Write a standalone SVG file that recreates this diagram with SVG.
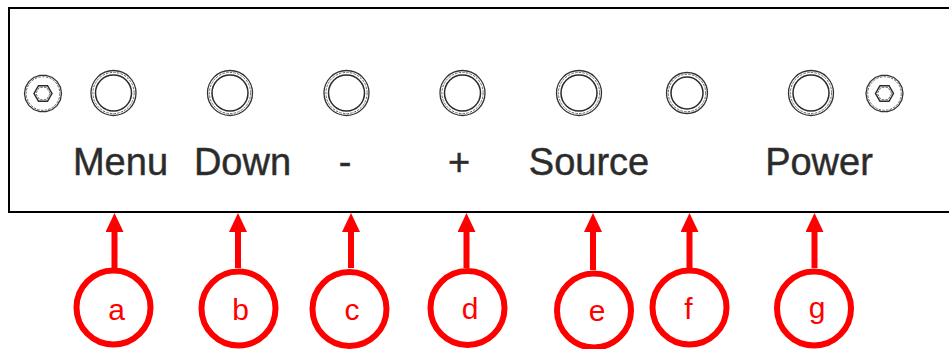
<svg xmlns="http://www.w3.org/2000/svg" width="949" height="349" viewBox="0 0 949 349">
  <style>
    .panel { fill: #ffffff; stroke: #000000; stroke-width: 2; }
    .k1 { fill: none; stroke: #333333; stroke-width: 1.3; }
    .k2 { fill: none; stroke: #666666; stroke-width: 1; stroke-dasharray: 2.5 1.2; }
    .k3 { fill: none; stroke: #2a2a2a; stroke-width: 1.5; }
    .lbl { font-family: "Liberation Sans", Arial, sans-serif; font-size: 38px; fill: #2a2a2a; stroke: #3a3a3a; stroke-width: 0.5; text-anchor: middle; }
    .ring { fill: #ffffff; stroke: #ff0000; stroke-width: 6; }
    .letter { font-family: "Liberation Sans", Arial, sans-serif; font-size: 30px; fill: #ff0000; text-anchor: middle; }
    .arrow { fill: none; stroke: #ff0000; stroke-width: 6; marker-end: url(#head); }
  </style>
  <defs>
    <marker id="head" viewBox="0 0 19 18" refX="0" refY="9" markerWidth="19" markerHeight="18" markerUnits="userSpaceOnUse" orient="auto">
      <path d="M0,0 L19,9 L0,18 Z" fill="#ff0000"/>
    </marker>
    <g id="knob">
      <circle class="k1" r="22.5"/>
      <circle class="k2" r="20.6"/>
      <circle class="k3" r="18"/>
    </g>
    <g id="knobS">
      <circle class="k1" r="20.5"/>
      <circle class="k2" r="18.7"/>
      <circle class="k3" r="16"/>
    </g>
    <g id="screw">
      <polygon class="k1" points="18.5,0 17.4,6.3 14.2,11.9 9.3,16 3.2,18.2 -3.2,18.2 -9.3,16 -14.2,11.9 -17.4,6.3 -18.5,0 -17.4,-6.3 -14.2,-11.9 -9.3,-16 -3.2,-18.2 3.2,-18.2 9.3,-16 14.2,-11.9 17.4,-6.3"/>
      <circle class="k2" r="16.8"/>
      <polygon class="k3" points="9,0 4.5,7.8 -4.5,7.8 -9,0 -4.5,-7.8 4.5,-7.8"/>
      <polygon class="k2" points="7.2,0 3.6,6.2 -3.6,6.2 -7.2,0 -3.6,-6.2 3.6,-6.2"/>
    </g>
  </defs>

  <g id="panel">
    <path class="panel" d="M950,8 L9,8 L9,212 L950,212"/>
    <use id="screw-left" href="#screw" x="43" y="93.5"/>
    <use id="screw-right" href="#screw" x="884.5" y="93.5"/>
    <g id="btn-menu"><use href="#knob" x="113.5" y="93"/><text class="lbl" x="120.5" y="175">Menu</text></g>
    <g id="btn-down"><use href="#knob" x="230" y="93"/><text class="lbl" x="242.5" y="175">Down</text></g>
    <g id="btn-minus"><use href="#knob" x="346.5" y="93"/><text class="lbl" x="345" y="175">-</text></g>
    <g id="btn-plus"><use href="#knob" x="462.5" y="93"/><text class="lbl" x="459" y="175">+</text></g>
    <g id="btn-source"><use href="#knob" x="579" y="93"/><text class="lbl" x="589" y="175">Source</text></g>
    <g id="btn-f"><use href="#knobS" x="687" y="93"/></g>
    <g id="btn-power"><use href="#knob" x="811" y="93"/><text class="lbl" x="819" y="175">Power</text></g>
  </g>

  <g id="connectors">
    <path class="arrow" d="M114.5,268 L114.5,232"/>
    <path class="arrow" d="M238,268 L238,232"/>
    <path class="arrow" d="M351,268 L351,232"/>
    <path class="arrow" d="M466.5,268 L466.5,232"/>
    <path class="arrow" d="M593,270 L593,232"/>
    <path class="arrow" d="M689.5,268 L689.5,232"/>
    <path class="arrow" d="M814.5,268 L814.5,232"/>
  </g>

  <g id="callout-a"><circle class="ring" cx="113.5" cy="307.5" r="37"/><text class="letter" x="116.5" y="319.5">a</text></g>
  <g id="callout-b"><circle class="ring" cx="238.5" cy="308.5" r="37"/><text class="letter" x="240.5" y="319.5">b</text></g>
  <g id="callout-c"><circle class="ring" cx="349.5" cy="309" r="37"/><text class="letter" x="352" y="320">c</text></g>
  <g id="callout-d"><circle class="ring" cx="467.5" cy="308" r="37"/><text class="letter" x="470" y="318.5">d</text></g>
  <g id="callout-e"><circle class="ring" cx="594" cy="310.5" r="37"/><text class="letter" x="597" y="321">e</text></g>
  <g id="callout-f"><circle class="ring" cx="689.5" cy="307.5" r="37"/><text class="letter" x="688.5" y="318.5">f</text></g>
  <g id="callout-g"><circle class="ring" cx="814" cy="308.5" r="37"/><text class="letter" x="817" y="317.5">g</text></g>
</svg>
